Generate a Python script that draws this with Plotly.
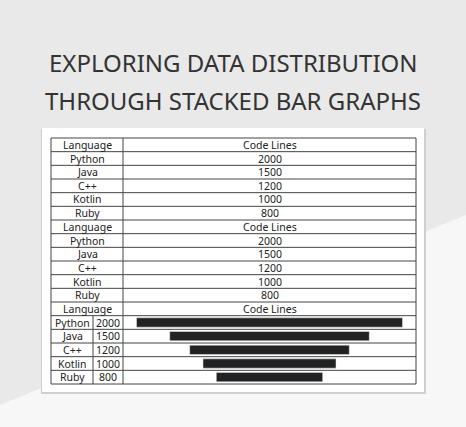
import plotly.graph_objects as go

languages = ["Python", "Java", "C++", "Kotlin", "Ruby"]
code_lines = [2000, 1500, 1200, 1000, 800]
header = ["Language", "Code Lines"]

W, H = 466, 427
def px(x):
    return x / W
def py(y):
    return (H - y) / H

# table geometry (pixels)
left, right, top, bottom = 51, 416, 138, 384
split, split2 = 123, 93
n_rows = 18
rh = (bottom - top) / n_rows

fig = go.Figure()

# funnel-style centred bars in the last block
fig.add_trace(go.Bar(
    y=languages, x=code_lines, base=[-v / 2 for v in code_lines],
    orientation="h", marker_color="#222222", width=0.68,
    hoverinfo="x+y", showlegend=False,
))

shapes = []
# background light diagonal
shapes.append(dict(type="path", xref="paper", yref="paper",
                   path=f"M {px(466)},{py(215)} L {px(466)},{py(427)} L {px(0)},{py(427)} L {px(0)},{py(405)} Z",
                   fillcolor="#f7f7f7", line_width=0, layer="below"))
# card shadow + card
shapes.append(dict(type="rect", xref="paper", yref="paper",
                   x0=px(41), x1=px(426), y0=py(129), y1=py(394),
                   fillcolor="#cfcfcf", line_width=0, layer="below"))
shapes.append(dict(type="rect", xref="paper", yref="paper",
                   x0=px(42), x1=px(424), y0=py(128), y1=py(392),
                   fillcolor="white", line_width=0, layer="below"))
line = dict(color="#444444", width=1)
shapes.append(dict(type="rect", xref="paper", yref="paper",
                   x0=px(left), x1=px(right), y0=py(top), y1=py(bottom), line=line))
for i in range(1, n_rows):
    shapes.append(dict(type="line", xref="paper", yref="paper",
                       x0=px(left), x1=px(right), y0=py(top + i * rh), y1=py(top + i * rh), line=line))
shapes.append(dict(type="line", xref="paper", yref="paper",
                   x0=px(split), x1=px(split), y0=py(top), y1=py(bottom), line=line))
shapes.append(dict(type="line", xref="paper", yref="paper",
                   x0=px(split2), x1=px(split2), y0=py(top + 13 * rh), y1=py(bottom), line=line))

ann = []
def cell(text, x, row):
    ann.append(dict(text=text, x=px(x), y=py(top + (row + 0.5) * rh), xref="paper", yref="paper",
                    showarrow=False, xanchor="center", yanchor="middle",
                    font=dict(size=10.5, color="#222222")))

mid_l = (left + split) / 2
mid_r = (split + right) / 2
for block in range(2):
    r0 = block * 6
    cell(header[0], mid_l, r0)
    cell(header[1], mid_r, r0)
    for i, (lang, v) in enumerate(zip(languages, code_lines)):
        cell(lang, mid_l, r0 + 1 + i)
        cell(str(v), mid_r, r0 + 1 + i)
cell(header[0], mid_l, 12)
cell(header[1], mid_r, 12)
for i, (lang, v) in enumerate(zip(languages, code_lines)):
    cell(lang, (left + split2) / 2, 13 + i)
    cell(str(v), (split2 + split) / 2, 13 + i)

for t, y in [("EXPLORING DATA DISTRIBUTION", 62), ("THROUGH STACKED BAR GRAPHS", 100)]:
    ann.append(dict(text=t, x=0.5, y=py(y), xref="paper", yref="paper", showarrow=False,
                    xanchor="center", yanchor="middle",
                    font=dict(size=24, color="#333333", family="Noto Sans")))

R = 2000 * (right - split) / 266 / 2
fig.update_layout(
    width=W, height=H, margin=dict(l=0, r=0, t=0, b=0),
    paper_bgcolor="#e9e9e9", plot_bgcolor="rgba(0,0,0,0)",
    font=dict(family="Noto Sans"),
    shapes=shapes, annotations=ann,
    xaxis=dict(domain=[px(split), px(right)], range=[-R, R], visible=False, fixedrange=True),
    yaxis=dict(domain=[py(bottom), py(top + 13 * rh)], autorange="reversed", visible=False,
               fixedrange=True),
    bargap=0.3,
)
fig.write_html("out.html", config={"displayModeBar": False},
               post_script="document.body.style.margin='0';")
